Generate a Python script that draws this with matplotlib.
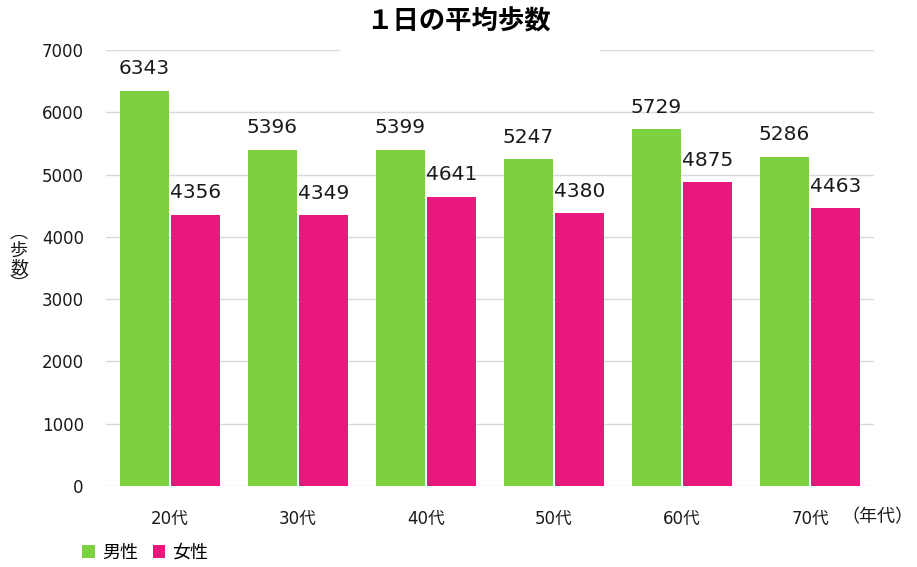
import matplotlib.pyplot as plt
import numpy as np

plt.rcParams['font.family'] = ['DejaVu Sans', 'Noto Sans CJK JP']

ages = ['20代', '30代', '40代', '50代', '60代', '70代']
male = [6343, 5396, 5399, 5247, 5729, 5286]
female = [4356, 4349, 4641, 4380, 4875, 4463]

green = '#7ed13e'
pink = '#e8187d'

fig = plt.figure(figsize=(9.17, 5.67), dpi=100)
ax = fig.add_axes([106/917, 1-486/567, 768/917, 436/567])

x = np.arange(len(ages))
w = 0.385
b1 = ax.bar(x - w/2 - 0.008, male, w, color=green, label='男性', zorder=3)
b2 = ax.bar(x + w/2 + 0.008, female, w, color=pink, label='女性', zorder=3)

for bars in (b1, b2):
    for r in bars:
        ax.annotate(str(int(r.get_height())), (r.get_x() + r.get_width()/2, r.get_height()),
                    xytext=(0, 9), textcoords='offset points', ha='center', va='bottom',
                    fontsize=14.5, color='#1a1a1a')

ax.set_xlim(-0.5, len(ages) - 0.5)
ax.set_ylim(0, 7000)
ax.set_yticks(range(0, 7001, 1000))
ax.set_xticks(x)
ax.set_xticklabels(ages, fontsize=12.5)
ax.tick_params(axis='both', length=0, labelsize=12, colors='#1a1a1a')
ax.tick_params(axis='x', pad=17)
ax.tick_params(axis='y', pad=16)
ax.grid(axis='y', color='#d9d9d9', linewidth=1, zorder=0)
ax.set_axisbelow(True)
for s in ax.spines.values():
    s.set_visible(False)

# white patch behind the title hides part of the top gridline
fig.patches.append(plt.Rectangle((340/917, 1-56/567), 260/917, 56/567,
                                 transform=fig.transFigure, facecolor='white',
                                 edgecolor='none', zorder=5))
fig.text(0.5, 1-22/567, '１日の平均歩数', ha='center', va='center', fontsize=19,
         fontweight='bold', family='Noto Sans CJK JP', zorder=6)

# vertical y label (vertical-form parentheses)
fig.text(19/917, 1-259/567, '︵\n歩\n数\n︶', ha='center', va='center', fontsize=13,
         family='Noto Sans CJK JP', linespacing=0.95, color='#1a1a1a')

fig.text(913/917, 1-517/567, '（年代）', ha='right', va='center', fontsize=13,
         family='Noto Sans CJK JP', color='#1a1a1a')

fig.legend(loc='center left', bbox_to_anchor=(66/917, 1-553/567), ncol=2, frameon=False,
           handlelength=0.7, handleheight=0.7, handletextpad=0.4,
           columnspacing=0.8, prop={'family': 'Noto Sans CJK JP', 'size': 13})

fig.savefig('out.png', dpi=100)
